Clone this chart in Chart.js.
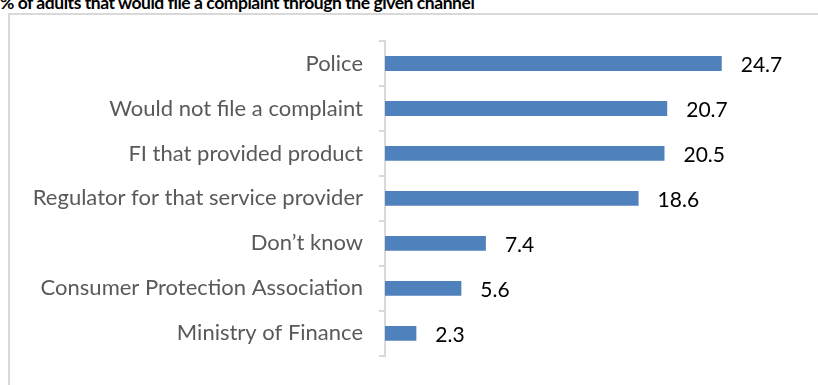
<!DOCTYPE html>
<html>
<head>
<meta charset="utf-8">
<script src="https://cdn.jsdelivr.net/npm/chart.js@4"></script>
<style>
  html, body { margin: 0; padding: 0; background: #fff; overflow: hidden; }
  #wrap { position: relative; width: 818px; height: 385px; }
  #title {
    position: absolute; left: 0; top: -8px; white-space: nowrap;
    font: bold 17.5px Lato, sans-serif; letter-spacing: -0.45px; color: #000;
  }
  #frame {
    position: absolute; left: 8px; top: 13px; width: 830px; height: 400px;
    border: 2px solid #d9d9d9; box-sizing: border-box; background: transparent;
  }
  canvas { position: absolute; left: 0; top: 0; }
</style>
</head>
<body>
<div id="wrap">
  <div id="title">% of adults that would file a complaint through the given channel</div>
  <div id="frame"></div>
  <canvas id="chart" width="818" height="385"></canvas>
</div>
<script>
const categories = [
  'Police',
  'Would not file a complaint',
  'FI that provided product',
  'Regulator for that service provider',
  'Don’t know',
  'Consumer Protection Association',
  'Ministry of Finance',
];
const values = [24.7, 20.7, 20.5, 18.6, 7.4, 5.6, 2.3];

// Value labels to the right of each bar
const valueLabels = {
  id: 'valueLabels',
  afterDatasetsDraw(chart) {
    const ctx = chart.ctx;
    const meta = chart.getDatasetMeta(0);
    ctx.save();
    ctx.font = '21px Lato, sans-serif';
    ctx.fillStyle = '#000';
    ctx.textBaseline = 'middle';
    ctx.textAlign = 'left';
    meta.data.forEach((bar, i) => {
      ctx.fillText(values[i].toFixed(1), bar.x + 19, bar.y + 2);
    });
    ctx.restore();
  },
};

const ctx = document.getElementById('chart').getContext('2d');
new Chart(ctx, {
  type: 'bar',
  data: {
    labels: categories,
    datasets: [
      {
        data: values,
        backgroundColor: '#4f81bd',
        categoryPercentage: 1,
        barPercentage: 0.33,
      },
    ],
  },
  options: {
    indexAxis: 'y',
    responsive: false,
    animation: false,
    layout: { padding: { top: 41, bottom: 22, right: 24, left: 0 } },
    plugins: {
      legend: { display: false },
      tooltip: { enabled: false },
    },
    scales: {
      x: { display: false, min: 0, max: 30 },
      y: {
        afterFit: s => { s.width = 385; },
        grid: {
          drawOnChartArea: false,
          drawTicks: true,
          tickLength: 6,
          color: '#d9d9d9',
          lineWidth: 2,
        },
        border: { display: true, color: '#d9d9d9', width: 2 },
        ticks: {
          padding: 16,
          color: '#595959',
          font: { family: 'Lato, sans-serif', size: 22 },
        },
      },
    },
  },
  plugins: [valueLabels],
});
</script>
</body>
</html>
